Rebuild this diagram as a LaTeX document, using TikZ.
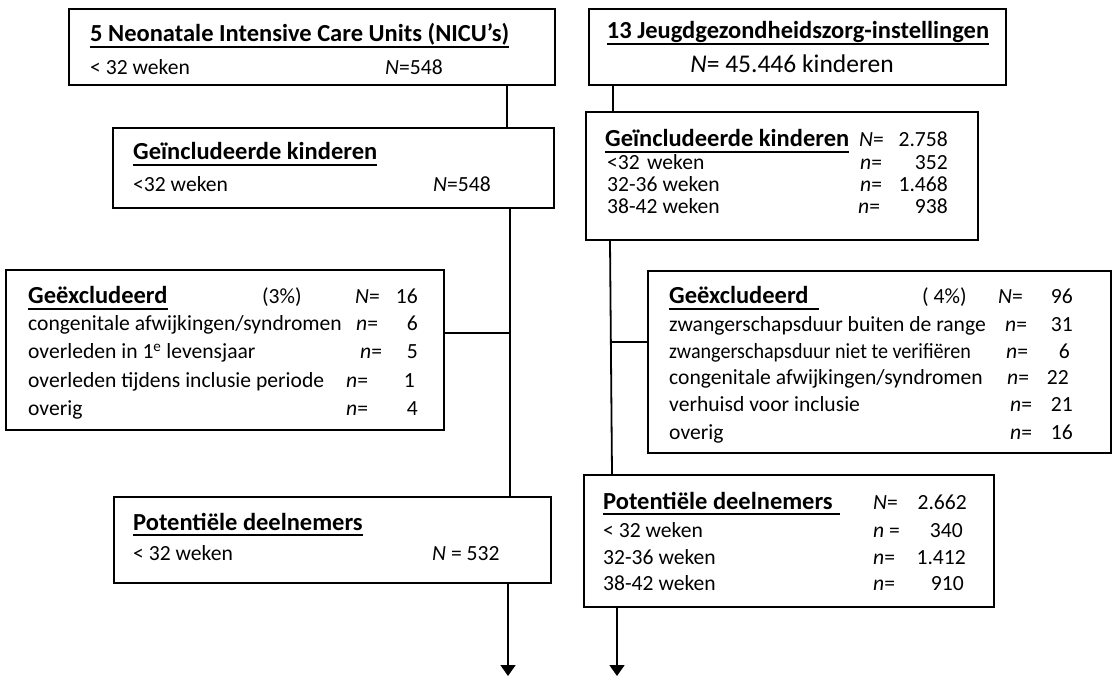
\documentclass[tikz,border=0pt]{standalone}
\usepackage{fontspec}
\usepackage{graphicx}
\setmainfont{Carlito}
\usetikzlibrary{arrows.meta}
\newcommand\ulx[2][0pt]{\begingroup\fontsize{24.5}{29}\selectfont\setbox0\hbox{\bfseries #2\hspace{#1}}\rlap{\rule[-6pt]{\wd0}{1.8pt}}\box0\endgroup}
\begin{document}
\begin{tikzpicture}[x=1pt,y=-1pt,
  box/.style={draw, line width=1.8pt, inner sep=0pt, anchor=north west},
  txt/.style={inner sep=0pt, font=\fontsize{21.6}{26}\selectfont},
  tl/.style={txt, anchor=base west},
  tr/.style={txt, anchor=base east},
  link/.style={line width=1.8pt},
  arr/.style={line width=1.8pt, -{Triangle[width=15pt,length=11pt]}}]
\useasboundingbox (0,0) rectangle (1112,676);
% boxes
\node[box, minimum width=486pt, minimum height=76pt] (A) at (68,8) {};
\node[box, minimum width=417pt, minimum height=76pt] (B) at (588,8) {};
\node[box, minimum width=441pt, minimum height=80pt] (E) at (112,127) {};
\node[box, minimum width=392pt, minimum height=128pt] (C) at (585,111) {};
\node[box, minimum width=438pt, minimum height=160pt] (F) at (5,269) {};
\node[box, minimum width=463pt, minimum height=182pt] (D) at (647,270) {};
\node[box, minimum width=437pt, minimum height=86pt] (G) at (113,496) {};
\node[box, minimum width=410pt, minimum height=132pt] (H) at (583,474) {};
% box A
\node[tl] (a1) at (90,42) {\ulx{5 Neonatale Intensive Care Units (NICU’s)}};
\node[tl] (a2) at (90,75) {< 32 weken};
\node[tl] (a3) at (385,75) {\textit{N}=548};
% box B
\node[txt, anchor=base] (b1) at (798,39) {\ulx{13 Jeugdgezondheidszorg-instellingen}};
\node[txt, anchor=base, font=\fontsize{25.5}{30}\selectfont] (b2) at (792,73) {\textit{N}= 45.446 kinderen};
% box E
\node[tl] (e1) at (133,160) {\ulx{Geïncludeerde kinderen}};
\node[tl] (e2) at (133,192) {<32 weken};
\node[tl] (e3) at (433,192) {\textit{N}=548};
% box C
\node[tl] (c1) at (605,147) {\ulx{Geïncludeerde kinderen}};
\node[tl] (c1n) at (859,147) {\textit{N}=};
\node[tr] (c1v) at (948,147) {2.758};
\node[tl] (c2) at (607,170) {<32};
\node[tl] (c2w) at (647,170) {weken};
\node[tl] (c2n) at (860,170) {\textit{n}=};
\node[tr] (c2v) at (948,170) {352};
\node[tl] (c3) at (607,192) {32-36 weken};
\node[tl] (c3n) at (860,192) {\textit{n}=};
\node[tr] (c3v) at (948,192) {1.468};
\node[tl] (c4) at (607,214) {38-42 weken};
\node[tl] (c4n) at (858,214) {\textit{n}=};
\node[tr] (c4v) at (948,214) {938};
% box F
\node[tl] (f1) at (28,304) {\ulx{Geëxcludeerd}};
\node[tl] (f1p) at (262,304) {(3\%)};
\node[tl] (f1n) at (355,304) {\textit{N}=};
\node[tr] (f1v) at (418,304) {16};
\node[tl] (f2) at (28,331) {congenitale afwijkingen/syndromen};
\node[tl] (f2n) at (356,331) {\textit{n}=};
\node[tr] (f2v) at (418,331) {6};
\node[tl] (f3) at (28,359) {overleden in 1\textsuperscript{e} levensjaar};
\node[tl] (f3n) at (360,359) {\textit{n}=};
\node[tr] (f3v) at (418,359) {5};
\node[tl] (f4) at (28,388) {overleden tijdens inclusie periode};
\node[tl] (f4n) at (346,388) {\textit{n}=};
\node[tr] (f4v) at (415,388) {1};
\node[tl] (f5) at (28,416) {overig};
\node[tl] (f5n) at (346,416) {\textit{n}=};
\node[tr] (f5v) at (418,416) {4};
% box D
\node[tl] (d1) at (669,304) {\ulx[10pt]{Geëxcludeerd}};
\node[tl] (d1p) at (922,304) {( 4\%)};
\node[tl] (d1n) at (998,304) {\textit{N}=};
\node[tr] (d1v) at (1073,304) {96};
\node[tl] (d2) at (669,332) {zwangerschapsduur buiten de range};
\node[tl] (d2n) at (1005,332) {\textit{n}=};
\node[tr] (d2v) at (1073,332) {31};
\node[tl] (d3) at (669,359) {\scalebox{0.93}[1]{zwangerschapsduur niet te verifiëren}};
\node[tl] (d3n) at (1006,359) {\textit{n}=};
\node[tr] (d3v) at (1070,359) {6};
\node[tl] (d4) at (669,385) {congenitale afwijkingen/syndromen};
\node[tl] (d4n) at (1007,385) {\textit{n}=};
\node[tr] (d4v) at (1069,385) {22};
\node[tl] (d5) at (669,412) {verhuisd voor inclusie};
\node[tl] (d5n) at (1010,412) {\textit{n}=};
\node[tr] (d5v) at (1073,412) {21};
\node[tl] (d6) at (669,439) {overig};
\node[tl] (d6n) at (1010,439) {\textit{n}=};
\node[tr] (d6v) at (1073,439) {16};
% box G
\node[tl] (g1) at (133,530) {\ulx{Potentiële deelnemers}};
\node[tl] (g2) at (133,560) {< 32 weken};
\node[tl] (g3) at (432,560) {\textit{N} = 532};
% box H
\node[tl] (h1) at (603,509) {\ulx[7pt]{Potentiële deelnemers}};
\node[tl] (h1n) at (873,509) {\textit{N}=};
\node[tr] (h1v) at (967,509) {2.662};
\node[tl] (h2) at (603,537) {< 32 weken};
\node[tl] (h2n) at (873,537) {\textit{n} =};
\node[tr] (h2v) at (963,537) {340};
\node[tl] (h3) at (603,564) {32-36 weken};
\node[tl] (h3n) at (873,564) {\textit{n}=};
\node[tr] (h3v) at (966,564) {1.412};
\node[tl] (h4) at (603,590) {38-42 weken};
\node[tl] (h4n) at (873,590) {\textit{n}=};
\node[tr] (h4v) at (964,590) {910};
% connector coordinates
\coordinate (xa) at (507,0);
\coordinate (xb) at (613,0);
\coordinate (xe) at (510,0);
\coordinate (xc1) at (610,0);
\coordinate (xc2) at (612,0);
\coordinate (jf) at (510,333);
\coordinate (jd) at (611,342);
\coordinate (eg) at (508,676);
\coordinate (eh) at (617,676);
% connectors
\draw[link] (A.south -| xa) -- (E.north -| xa);
\draw[link] (B.south -| xb) -- (C.north -| xb);
\draw[link] (E.south -| xe) -- (G.north -| xe);
\draw[link] (jf -| F.east) -- (jf);
\draw[link] (C.south -| xc1) -- (H.north -| xc2);
\draw[link] (jd) -- (jd -| D.west);
\draw[arr] (G.south -| eg) -- (eg);
\draw[arr] (H.south -| eh) -- (eh);
\end{tikzpicture}
\end{document}
